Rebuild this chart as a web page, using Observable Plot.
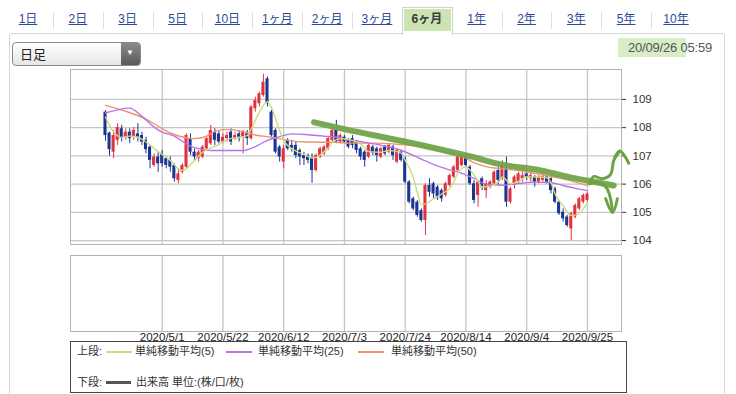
<!DOCTYPE html>
<html><head><meta charset="utf-8">
<script src="https://cdn.jsdelivr.net/npm/d3@7"></script>
<script src="https://cdn.jsdelivr.net/npm/@observablehq/plot@0.6"></script>
<style>
body{margin:0;background:#fff;}
#root{position:relative;width:736px;height:394px;overflow:hidden;font-family:"Liberation Sans","Noto Sans CJK JP",sans-serif;color:#333;background:#fff;}
.a{position:absolute;white-space:nowrap;}
.tab{position:absolute;top:11px;font-size:12px;line-height:16px;color:#2c4c96;text-decoration:underline;transform:translateX(-50%);white-space:nowrap;}
.sep{position:absolute;top:12px;width:1px;height:17px;background:#dedede;}
.lg{position:absolute;font-size:11px;line-height:13px;color:#333;white-space:nowrap;}
svg{background:transparent!important;}
</style></head><body><div id="root"></div>
<script>
// ---------------- data ----------------
const tabs = ["1日","2日","3日","5日","10日","1ヶ月","2ヶ月","3ヶ月","6ヶ月","1年","2年","3年","5年","10年"];
const selectedTab = "6ヶ月";
const intervalLabel = "日足";
const timestamp = "20/09/26 05:59";

const dates = [
"2020/4/13","2020/4/14","2020/4/15","2020/4/16","2020/4/17","2020/4/20","2020/4/21","2020/4/22","2020/4/23","2020/4/24","2020/4/27","2020/4/28","2020/4/29","2020/4/30",
"2020/5/1","2020/5/4","2020/5/5","2020/5/6","2020/5/7","2020/5/8","2020/5/11","2020/5/12","2020/5/13","2020/5/14","2020/5/15","2020/5/18","2020/5/19","2020/5/20","2020/5/21","2020/5/22","2020/5/25","2020/5/26","2020/5/27","2020/5/28","2020/5/29",
"2020/6/1","2020/6/2","2020/6/3","2020/6/4","2020/6/5","2020/6/8","2020/6/9","2020/6/10","2020/6/11","2020/6/12","2020/6/15","2020/6/16","2020/6/17","2020/6/18","2020/6/19","2020/6/22","2020/6/23","2020/6/24","2020/6/25","2020/6/26","2020/6/29","2020/6/30",
"2020/7/1","2020/7/2","2020/7/3","2020/7/6","2020/7/7","2020/7/8","2020/7/9","2020/7/10","2020/7/13","2020/7/14","2020/7/15","2020/7/16","2020/7/17","2020/7/20","2020/7/21","2020/7/22","2020/7/23","2020/7/24","2020/7/27","2020/7/28","2020/7/29","2020/7/30","2020/7/31",
"2020/8/3","2020/8/4","2020/8/5","2020/8/6","2020/8/7","2020/8/10","2020/8/11","2020/8/12","2020/8/13","2020/8/14","2020/8/17","2020/8/18","2020/8/19","2020/8/20","2020/8/21","2020/8/24","2020/8/25","2020/8/26","2020/8/27","2020/8/28","2020/8/31",
"2020/9/1","2020/9/2","2020/9/3","2020/9/4","2020/9/7","2020/9/8","2020/9/9","2020/9/10","2020/9/11","2020/9/14","2020/9/15","2020/9/16","2020/9/17","2020/9/18","2020/9/21","2020/9/22","2020/9/23","2020/9/24","2020/9/25"];

const open = [108.55,107.81,107.13,107.55,107.96,107.66,107.84,107.66,107.78,107.72,107.55,107.31,106.66,106.96,
107.07,106.90,106.84,106.66,106.13,106.42,106.60,107.61,107.13,106.90,106.96,107.25,107.43,107.84,107.78,107.49,107.61,107.84,107.61,107.78,107.66,
107.78,107.61,108.67,108.85,109.14,109.73,108.55,107.90,107.31,106.78,107.55,107.37,107.37,107.19,107.01,107.01,106.90,106.48,106.96,107.07,107.25,107.55,
107.90,107.49,107.66,107.55,107.61,107.49,107.25,107.13,106.96,107.31,107.25,106.96,107.31,107.13,107.31,106.78,107.13,106.90,106.07,105.48,105.36,105.06,104.71,
105.95,106.01,105.89,105.77,105.60,105.95,106.25,106.48,106.66,106.96,106.60,106.01,105.60,106.19,105.77,105.89,106.01,106.48,106.19,106.54,105.36,
105.95,106.07,106.19,106.36,106.19,106.25,106.07,106.13,106.25,106.19,105.83,105.36,105.00,104.83,104.41,104.83,105.12,105.36,105.42];
const high = [108.60,107.84,107.90,108.14,108.08,107.96,107.96,108.00,108.14,107.84,107.66,107.37,107.07,107.13,
107.19,106.96,106.96,106.72,106.54,106.72,107.78,107.78,107.25,107.19,107.37,107.66,108.08,107.96,107.90,107.78,107.84,107.96,107.84,107.90,107.90,
107.90,108.79,109.08,109.26,109.89,109.79,108.61,107.96,107.37,107.37,107.61,107.55,107.49,107.25,107.13,107.07,107.07,107.07,107.31,107.37,107.66,107.96,
108.26,107.78,107.72,107.61,107.72,107.55,107.31,107.19,107.43,107.37,107.31,107.31,107.37,107.43,107.37,107.25,107.19,106.96,106.13,105.54,105.42,105.12,106.01,
106.19,106.07,105.95,105.83,106.07,106.36,106.66,107.01,107.07,107.01,106.66,106.13,106.13,106.25,106.13,106.13,106.48,106.60,106.84,106.96,105.89,
106.30,106.42,106.54,106.48,106.42,106.30,106.30,106.36,106.30,106.25,105.89,105.42,105.12,104.89,105.00,105.30,105.54,105.65,105.71];
const low = [107.52,106.99,106.90,107.37,107.49,107.55,107.43,107.55,107.49,107.37,107.07,106.54,106.60,106.42,
106.60,106.54,106.42,106.07,106.01,106.36,106.54,107.01,106.84,106.78,106.90,107.19,107.37,107.37,107.43,107.43,107.49,107.37,107.55,107.49,107.07,
107.37,107.55,108.55,108.73,109.08,108.73,107.66,107.07,106.78,106.54,107.19,107.13,106.90,106.66,106.66,106.72,106.03,106.42,106.90,107.01,107.19,107.49,
107.43,107.43,107.43,107.25,107.25,107.07,106.84,106.60,106.90,107.01,106.78,106.90,107.01,107.07,106.84,106.72,106.78,106.01,105.30,105.06,104.83,104.65,104.18,
105.54,105.48,105.42,105.36,105.54,105.89,106.19,106.42,106.60,106.60,105.95,105.30,105.18,105.77,105.48,105.83,105.95,105.95,106.13,105.18,105.30,
105.83,106.01,106.07,106.13,106.07,105.89,106.01,106.07,106.01,105.65,105.30,104.89,104.65,104.47,104.00,104.77,105.06,105.30,105.36];
const close = [107.72,107.22,107.72,108.00,107.61,107.84,107.61,107.90,107.66,107.49,107.22,106.84,106.96,106.72,
106.72,106.66,106.60,106.19,106.36,106.66,107.72,107.13,106.96,107.13,107.31,107.61,107.90,107.55,107.49,107.66,107.72,107.49,107.72,107.61,107.84,
107.61,108.73,108.96,109.20,109.61,108.85,107.72,107.13,106.96,107.25,107.25,107.25,107.01,106.96,106.90,106.84,106.48,107.01,107.25,107.31,107.61,107.90,
107.49,107.72,107.49,107.31,107.37,107.19,106.96,106.84,107.37,107.10,107.01,107.25,107.07,107.37,107.01,107.19,106.84,106.07,105.36,105.12,104.89,104.71,105.95,
105.71,105.65,105.54,105.48,106.01,106.30,106.60,106.96,107.01,106.66,106.01,105.42,106.07,105.89,106.01,106.07,106.42,106.13,106.66,105.36,105.83,
106.25,106.36,106.30,106.25,106.30,106.07,106.25,106.27,106.07,105.77,105.36,104.95,104.77,104.53,104.95,105.24,105.48,105.60,105.65];

// moving averages (trading-day index, value)
const ma5Idx = [0,2,4,6,8,10,13,16,18,19,22,24,28,30,33,35,36,38,40,41,43,44,45,47,49,51,52,54,55,56,58,60,63,65,68,70,73,74,76,77,78,79,81,83,85,86,87,89,90,92,93,95,97,98,100,102,104,107,109,110,111,113,115,116,118,119];
const ma5Val = [108.37,107.85,107.65,107.70,107.66,107.49,107.15,106.84,106.54,106.48,106.84,107.13,107.40,107.58,107.66,107.72,107.96,108.55,108.92,108.70,107.90,107.55,107.37,107.17,107.05,106.93,106.95,107.15,107.28,107.49,107.61,107.58,107.42,107.15,107.13,107.19,107.10,106.84,106.25,105.70,105.28,105.30,105.48,105.65,105.85,106.07,106.40,106.60,106.50,106.10,105.90,105.93,106.07,106.25,106.01,106.10,106.25,106.25,106.22,106.05,105.65,105.24,104.89,104.90,105.12,105.35];
const ma25Idx = [0,3,6,9,12,14,17,20,22,26,30,34,37,40,43,46,50,54,57,60,64,68,73,76,79,81,84,88,91,94,98,102,106,110,113,116,119];
const ma25Val = [108.52,108.63,108.69,108.40,108.02,107.84,107.70,107.42,107.29,107.19,107.19,107.19,107.33,107.55,107.68,107.78,107.75,107.70,107.66,107.57,107.48,107.38,107.20,107.02,106.82,106.70,106.55,106.38,106.20,106.00,105.96,106.02,106.07,106.05,105.95,105.85,105.77];
const ma50Idx = [0,5,10,13,16,20,22,25,27,30,34,37,41,45,50,57,60,66,73,80,84,89,91,94,98,102,106,110,114,119];
const ma50Val = [108.79,108.58,108.30,108.05,107.81,107.64,107.61,107.70,107.86,107.94,107.86,107.74,107.66,107.55,107.49,107.48,107.45,107.45,107.40,107.30,107.12,106.92,106.76,106.62,106.54,106.48,106.38,106.27,106.15,105.95];

// hand-drawn green annotation (trend line and two arrows), in (index, price)
const trendIdx = [51.5,59.5,73.5,90.1,98.3,106.6,114.8,118.9,125.5];
const trendVal = [108.19,107.93,107.52,106.98,106.68,106.51,106.24,106.13,105.95];
const arrowSeg = ["up","up","up","up","up","up","uphead","uphead","uphead","dn","dn","dn","dn","dn","dnhead","dnhead","dnhead"];
const arrowIdx = [119.5,120.6,122.6,124.7,125.5,127.0, 125.7,127.0,129.2, 119.5,121.5,123.5,124.5,125.2, 123.5,125.2,126.4];
const arrowVal = [106.01,106.27,106.19,106.34,106.84,107.17, 106.93,107.17,106.74, 106.01,106.06,105.91,105.60,105.00, 105.48,105.00,105.48];

const yTicks = [104,105,106,107,108,109];
const tickLabels = ["2020/5/1","2020/5/22","2020/6/12","2020/7/3","2020/7/24","2020/8/14","2020/9/4","2020/9/25"];
const legendTop = [["単純移動平均(5)","#c9dc7e"],["単純移動平均(25)","#b874e6"],["単純移動平均(50)","#f0926e"]];
const legendBottom = "出来高 単位:(株/口/枚)";

// ---------------- layout ----------------
const root = document.getElementById("root");
function el(cls, css, text) {
  const d = document.createElement("div");
  if (cls) d.className = cls;
  Object.assign(d.style, css);
  if (text != null) d.textContent = text;
  root.appendChild(d);
  return d;
}
// widget border
el("a", {left:"9px", top:"33px", width:"714px", height:"400px", border:"1px solid #d6d6d6", borderRadius:"3px"});
// tabs
const tabStart = 28, tabStep = 49.85;
tabs.forEach((t, k) => {
  const cx = tabStart + k * tabStep;
  if (t === selectedTab) {
    el("a", {left:(cx-25)+"px", top:"7px", width:"49px", height:"27px", background:"#fff", border:"1px solid #d0d0d0", borderBottom:"none"});
    el("a", {left:(cx-23)+"px", top:"9px", width:"47px", height:"22px", background:"#cde4b2"});
    el("tab", {left:cx+"px", color:"#3a3a3a", textDecoration:"none", fontWeight:"bold"}, t);
  } else {
    el("tab", {left:cx+"px"}, t);
  }
  if (k < tabs.length - 1 && t !== selectedTab && tabs[k+1] !== selectedTab)
    el("sep", {left:(cx + tabStep/2)+"px"});
});
// dropdown
el("a", {left:"12px", top:"42px", width:"129px", height:"24px", border:"1px solid #8a8a8a", borderRadius:"4px", background:"linear-gradient(#ffffff,#e6e6e6)", boxSizing:"border-box"});
el("a", {left:"20px", top:"47px", fontSize:"13px", lineHeight:"15px", color:"#222"}, intervalLabel);
el("a", {left:"121px", top:"43px", width:"19px", height:"22px", background:"linear-gradient(#8a8a8a,#5a5a5a)", borderRadius:"0 3px 3px 0"});
el("a", {left:"126px", top:"47px", fontSize:"8px", lineHeight:"12px", color:"#fff"}, "▼");
// timestamp
el("a", {left:"618px", top:"38px", width:"68px", height:"19px", background:"#d8ecc6"});
el("a", {right:"24px", top:"40px", fontSize:"13px", lineHeight:"15px", color:"#555", letterSpacing:"-0.2px"}, timestamp);

// ---------------- charts ----------------
const candles = dates.map((d, i) => ({i, date:d, o:open[i], h:high[i], l:low[i], c:close[i]}));
const pts = (idx, val) => idx.map((x, k) => ({i:x, v:val[k]}));
const ma5 = pts(ma5Idx, ma5Val), ma25 = pts(ma25Idx, ma25Val), ma50 = pts(ma50Idx, ma50Val);
const trend = pts(trendIdx, trendVal);
const arrows = arrowIdx.map((x, k) => ({i:x, v:arrowVal[k], seg:arrowSeg[k]}));
const tickIdx = tickLabels.map(t => dates.indexOf(t));
const upCol = "#e3323f", dnCol = "#1c3592";
const col = d => d.c >= d.o ? upCol : dnCol;
const xDomain = [-8.64, 127.41];
const gridCol = "#c6c6c6";

const upper = Plot.plot({
  width:736, height:250, marginTop:69, marginBottom:6, marginLeft:70, marginRight:115,
  style:{background:"transparent", fontFamily:"Liberation Sans, sans-serif", fontSize:"11.5px", color:"#333", overflow:"visible"},
  x:{type:"linear", domain:xDomain, axis:null},
  y:{domain:[103.86,110.06], axis:"right", ticks:yTicks, tickSize:4, tickPadding:7, label:null, tickFormat:d => String(d)},
  marks:[
    Plot.ruleY(yTicks, {stroke:gridCol, strokeWidth:1.3}),
    Plot.ruleX(tickIdx, {stroke:gridCol, strokeWidth:1.3}),
    Plot.frame({stroke:"#b4b4b4"}),
    Plot.ruleX(candles, {x:"i", y1:"l", y2:"h", stroke:col, strokeWidth:1}),
    Plot.rect(candles, {x1:d => d.i - 0.38, x2:d => d.i + 0.38, y1:"o", y2:"c", fill:col}),
    Plot.line(ma50, {x:"i", y:"v", stroke:legendTop[2][1], strokeWidth:1.4, curve:"monotone-x"}),
    Plot.line(ma25, {x:"i", y:"v", stroke:legendTop[1][1], strokeWidth:1.4, curve:"monotone-x"}),
    Plot.line(ma5, {x:"i", y:"v", stroke:legendTop[0][1], strokeWidth:1.4, curve:"monotone-x"}),
    Plot.line(trend, {x:"i", y:"v", stroke:"#6fa244", strokeWidth:6, strokeOpacity:0.92, strokeLinecap:"round", curve:"monotone-x"}),
    Plot.line(arrows, {x:"i", y:"v", z:"seg", stroke:"#6fa244", strokeWidth:3, strokeLinecap:"round", strokeLinejoin:"round", curve:"catmull-rom"})
  ]
});
Object.assign(upper.style, {position:"absolute", left:"0px", top:"0px"});
root.appendChild(upper);

const lower = Plot.plot({
  width:736, height:96, marginTop:5, marginBottom:15, marginLeft:70, marginRight:115,
  style:{background:"transparent", fontFamily:"Liberation Sans, sans-serif", fontSize:"11.5px", color:"#222", overflow:"visible"},
  x:{type:"linear", domain:xDomain, ticks:tickIdx, tickFormat:i => dates[i], tickSize:0, tickPadding:1, label:null},
  y:{domain:[0,1], axis:null},
  marks:[
    Plot.ruleX(tickIdx, {stroke:gridCol, strokeWidth:1.3}),
    Plot.frame({stroke:"#b4b4b4"})
  ]
});
Object.assign(lower.style, {position:"absolute", left:"0px", top:"250px"});
root.appendChild(lower);

// ---------------- legend ----------------
el("a", {left:"70px", top:"341px", width:"557px", height:"52px", border:"1px solid #444", background:"#fff", boxSizing:"border-box"});
el("lg", {left:"77px", top:"345px"}, "上段:");
const lineX = [106, 226, 358], textX = [135, 258, 391];
legendTop.forEach(([t, c], k) => {
  el("a", {left:lineX[k]+"px", top:"351px", width:"26px", height:"2px", background:c});
  el("lg", {left:textX[k]+"px", top:"345px"}, t);
});
el("lg", {left:"77px", top:"376px"}, "下段:");
el("a", {left:"106px", top:"381px", width:"25px", height:"3px", background:"#555"});
el("lg", {left:"136px", top:"376px"}, legendBottom);
</script></body></html>
